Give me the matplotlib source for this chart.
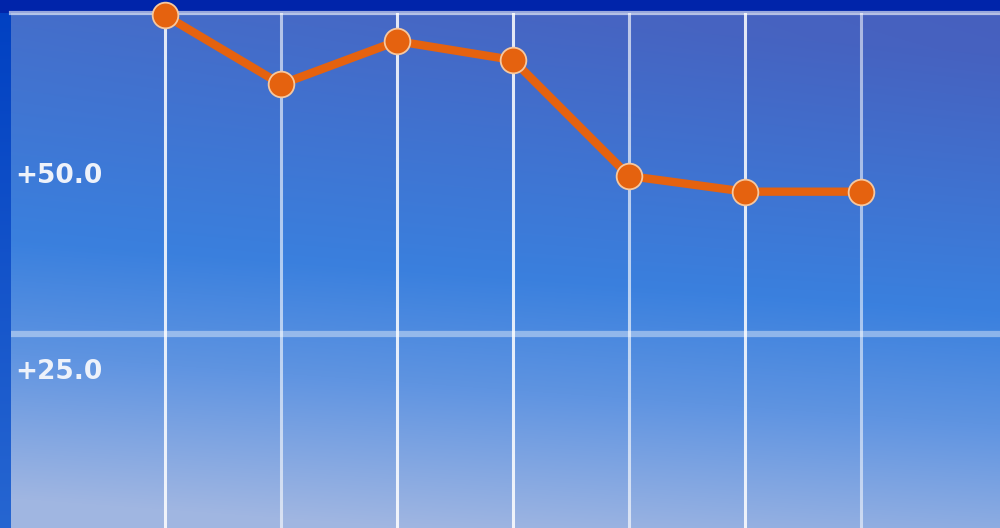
import numpy as np
import matplotlib
matplotlib.use("Agg")
import matplotlib.pyplot as plt

# values
x_idx = [0, 1, 2, 3, 4, 5, 6]
values = [70.5, 61.7, 67.2, 64.8, 50.0, 48.0, 48.0]
label_values = [50.0, 25.0]
label_texts = ["+50.0", "+25.0"]
band_value = 29.9

W, H = 1000, 528


def make_background():
    yy, xx = np.mgrid[0:H, 0:W].astype(float)
    u = (yy - 13) / 515 - 0.14 * xx / W + 0.06
    u = np.clip(u, 0, 1)
    stops = np.array([0.0, 0.5, 0.72, 1.0])
    cols = np.array([
        [70, 108, 200],
        [58, 128, 222],
        [95, 148, 225],
        [160, 182, 225],
    ]) / 255.0
    img = np.zeros((H, W, 3))
    for c in range(3):
        img[..., c] = np.interp(u, stops, cols[:, c])
    # slight purple tint to the upper right
    tint = np.clip(1 - yy / 300, 0, 1) * (xx / W)
    img[..., 1] -= 0.05 * tint
    img[..., 2] -= 0.04 * tint
    # left frame band
    t = yy[:, :11] / H
    img[:, :11, 0] = 0.0 + 0.15 * t
    img[:, :11, 1] = 0.25 + 0.15 * t
    img[:, :11, 2] = 0.76 + 0.06 * t
    # top frame band
    img[:13, :, :] = np.array([0, 36, 170]) / 255.0
    return np.clip(img, 0, 1)


def main() -> None:
    fig = plt.figure(figsize=(10, 5.28), dpi=100)

    bg = fig.add_axes([0, 0, 1, 1])
    bg.imshow(make_background(), aspect="auto", extent=[0, 1, 0, 1])
    bg.set_axis_off()

    ax = fig.add_axes([11 / W, 0, 1 - 11 / W, (H - 13) / H])
    ax.patch.set_alpha(0)

    px = 116.0  # pixels per category
    xmin = -(165 - 11) / px
    ax.set_xlim(xmin, xmin + (W - 11) / px)
    ppu = 7.84  # pixels per unit
    ymax = 25 + (372 - 13) / ppu
    ymin = 25 - (H - 372) / ppu
    ax.set_ylim(ymin, ymax)

    # brighter and dimmer grid lines, as in the reference
    grid_alpha = [0.85, 0.6, 0.85, 0.85, 0.65, 0.85, 0.55]
    for xv, a in zip(x_idx, grid_alpha):
        ax.axvline(xv, color="white", lw=2.2, alpha=a, zorder=1)
    ax.axhline(band_value, color="white", lw=4.5, alpha=0.4, zorder=1)
    ax.axhline(ymax, color="white", lw=3, alpha=0.6, zorder=1, clip_on=False)

    ax.plot(x_idx, values, color="#e5620f", lw=6, zorder=3,
            solid_capstyle="round")
    ax.plot(x_idx, values, linestyle="none", marker="o", markersize=18.5,
            markerfacecolor="#e5620f", markeredgecolor="#f6c8a0",
            markeredgewidth=1.3, zorder=4, clip_on=False)

    for v, txt in zip(label_values, label_texts):
        ax.text(xmin + 4 / px, v, txt, color="#eef2fa", fontsize=19,
                fontweight="bold", va="center", ha="left", zorder=5)

    for s in ax.spines.values():
        s.set_visible(False)
    ax.set_xticks([])
    ax.set_yticks([])

    fig.savefig("out.png", dpi=100)


if __name__ == '__main__':
    main()
